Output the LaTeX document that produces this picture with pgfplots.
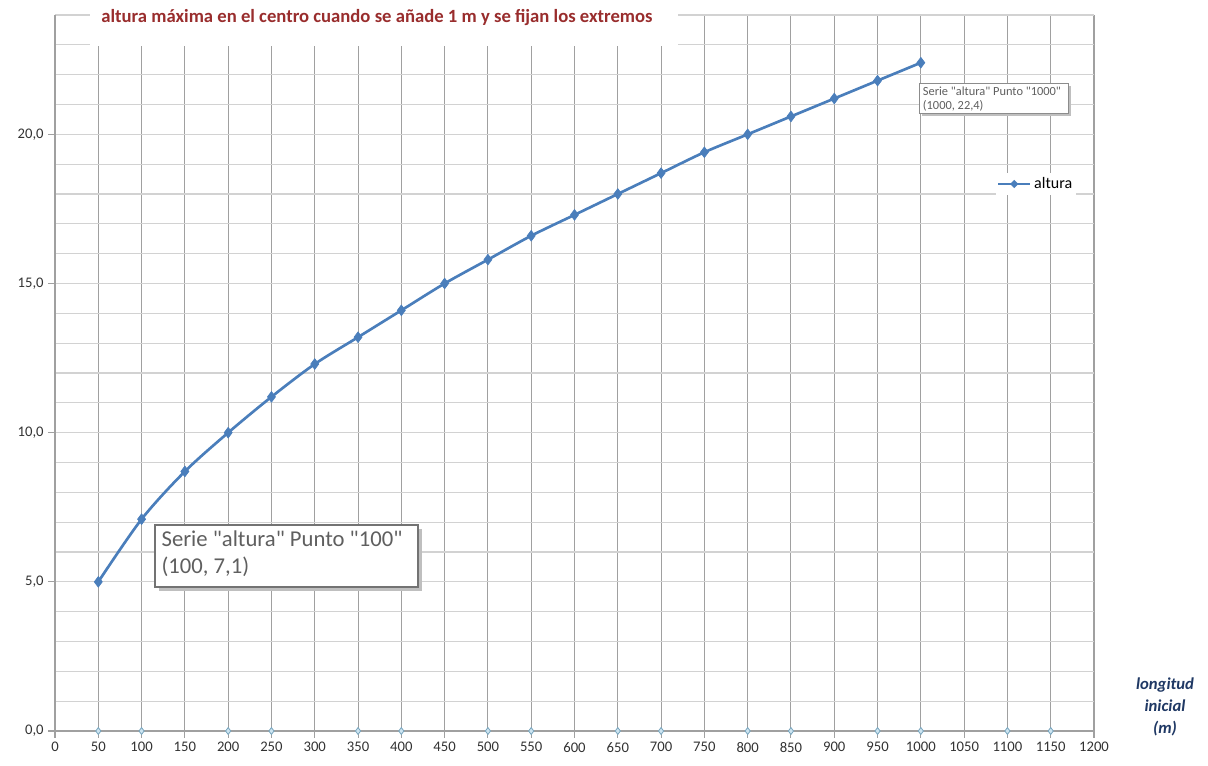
\documentclass[border=0pt]{standalone}
\usepackage{pgfplots}
\pgfplotsset{compat=1.18}
\usetikzlibrary{shapes.geometric}
\usepackage{fontspec}
\setmainfont{Carlito}
\newfontfamily\tipfont{Carlito}[Ligatures=TeXOff]
\definecolor{serie}{RGB}{74,126,187}
\definecolor{titlered}{RGB}{153,45,45}
\definecolor{labblue}{RGB}{31,56,100}
\definecolor{ticktxt}{RGB}{50,50,50}
\definecolor{gridv}{RGB}{160,160,160}
\definecolor{gridh}{RGB}{210,210,210}
\definecolor{zfill}{RGB}{205,228,240}
\definecolor{zdraw}{RGB}{120,165,190}
\definecolor{tipgray}{RGB}{95,95,95}
\begin{document}
\begin{tikzpicture}
\path[use as bounding box] (0,0) rectangle (906pt,573.75pt);
\begin{axis}[
  at={(41.25pt,25.5pt)}, anchor=south west,
  scale only axis, width=779.25pt, height=537pt,
  xmin=0, xmax=1200, ymin=0, ymax=24,
  xtick={0,50,...,1200},
  ytick={0,5,10,15,20},
  minor ytick={1,2,3,4,6,7,8,9,11,12,13,14,16,17,18,19,21,22,23,24},
  xmajorgrids, ymajorgrids, yminorgrids,
  x grid style={gridv, line width=0.8pt},
  major grid style={line width=0.8pt},
  y grid style={gridh, line width=0.8pt},
  minor grid style={gridh, line width=0.8pt},
  axis x line=bottom, axis y line=left,
  axis line style={-, gridv, line width=0.8pt},
  x axis line style={-}, y axis line style={-},
  tick align=outside, major tick length=5pt, minor tick length=0pt,
  tick style={gridv, line width=0.8pt},
  ticklabel style={font=\fontsize{11}{13}\selectfont, text=ticktxt},
  /pgf/number format/assume math mode=true,
  y tick label style={/pgf/number format/.cd, fixed, fixed zerofill, precision=1, use comma},
  x tick label style={/pgf/number format/.cd, fixed, 1000 sep={}},
  legend style={at={(0.905,0.764)}, anchor=west, draw=none, fill=white,
    font=\fontsize{12}{14}\selectfont, inner sep=1pt,
    /tikz/every even column/.append style={column sep=2pt}},
  legend image code/.code={
    \draw[serie, line width=2pt] (0pt,0pt) -- (24pt,0pt);
    \node[diamond, fill=serie, inner sep=0pt, minimum size=7pt] at (12pt,0pt) {};
  },
  clip=false,
]
\addplot[only marks, mark=diamond*, mark size=2.6pt, mark options={fill=zfill, draw=zdraw, line width=0.6pt}, forget plot]
coordinates {(50,0)(100,0)(200,0)(250,0)(350,0)(400,0)(500,0)(550,0)(650,0)(700,0)(800,0)(850,0)(950,0)(1000,0)(1100,0)(1150,0)};
\addplot[serie, line width=2pt, smooth, mark=diamond*, mark size=4pt, mark options={fill=serie, draw=serie, line width=0.5pt}]
coordinates {(50,5.0)(100,7.1)(150,8.7)(200,10.0)(250,11.2)(300,12.3)(350,13.2)(400,14.1)(450,15.0)(500,15.8)(550,16.6)(600,17.3)(650,18.0)(700,18.7)(750,19.4)(800,20.0)(850,20.6)(900,21.2)(950,21.8)(1000,22.4)};
\addlegendentry{altura}
\end{axis}
% title box
\fill[white] (67.5pt,539.25pt) rectangle (508.5pt,573.75pt);
\node[font=\fontsize{14}{16}\selectfont\bfseries, text=titlered] at (282.75pt,560.25pt) {altura máxima en el centro cuando se añade 1 m y se fijan los extremos};
% x axis label
\node[font=\fontsize{12.5}{16.5}\selectfont\bfseries\itshape, text=labblue, align=center] at (873.75pt,43.5pt) {longitud\\inicial\\(m)};
% tooltip 1000
\fill[black!25] (691.25pt,487pt) rectangle (803pt,509.5pt);
\draw[black!45, fill=white, line width=0.6pt] (689.25pt,489pt) rectangle (801pt,511.5pt);
\node[font=\tipfont\fontsize{9.3}{10.5}\selectfont, text=tipgray, align=left, anchor=north west, inner sep=0pt] at (692pt,509pt) {Serie "altura" Punto "1000"\\(1000, 22,4)};
% tooltip 100
\fill[black!25] (119.25pt,130.5pt) rectangle (316.5pt,177pt);
\draw[black!55, fill=white, line width=0.8pt] (116.25pt,133.5pt) rectangle (313.5pt,180pt);
\node[font=\tipfont\fontsize{17}{20}\selectfont, text=tipgray, align=left, anchor=north west, inner sep=0pt] at (121pt,176pt) {Serie "altura" Punto "100"\\(100, 7,1)};
\end{tikzpicture}
\end{document}
